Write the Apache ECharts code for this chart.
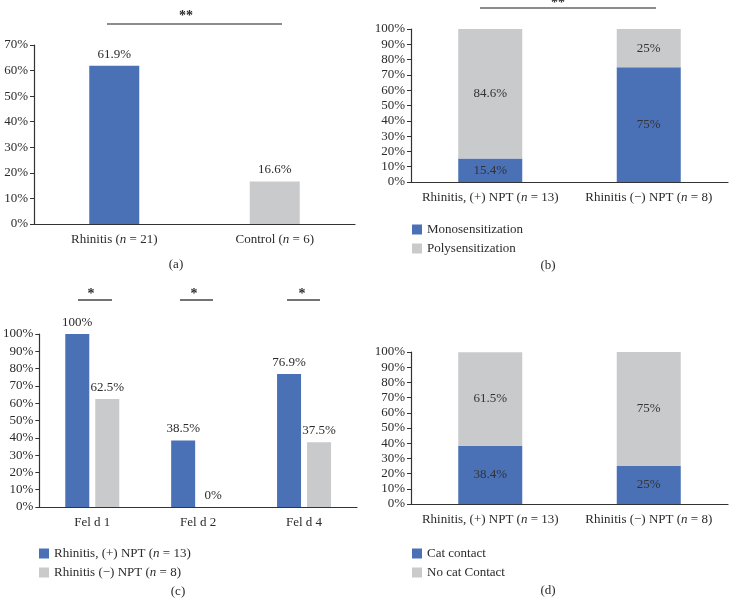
<!DOCTYPE html>
<html>
<head>
<meta charset="utf-8">
<script src="https://cdn.jsdelivr.net/npm/echarts@6/dist/echarts.min.js"></script>
<style>html,body{margin:0;padding:0;background:#fff}#c{width:730px;height:609px}</style>
</head>
<body>
<div id="c"></div>
<script>
// ---- data ----
const catsA = ['Rhinitis (n = 21)', 'Control (n = 6)'];
const valsA = [61.9, 16.6];
const catsB = ['Rhinitis, (+) NPT (n = 13)', 'Rhinitis (\u2212) NPT (n = 8)'];
const monoB = [15.4, 75];
const polyB = [84.6, 25];
const catsC = ['Fel d 1', 'Fel d 2', 'Fel d 4'];
const posC = [100, 38.5, 76.9];
const negC = [62.5, 0, 37.5];
const catsD = ['Rhinitis, (+) NPT (n = 13)', 'Rhinitis (\u2212) NPT (n = 8)'];
const catD = [38.4, 25];
const noCatD = [61.5, 75];
const seriesNamesB = ['Monosensitization', 'Polysensitization'];
const seriesNamesC = ['Rhinitis, (+) NPT (n = 13)', 'Rhinitis (\u2212) NPT (n = 8)'];
const seriesNamesD = ['Cat contact', 'No cat Contact'];

const BLUE = '#4a70b6', GRAY = '#c9cacc', TXT = '#2b2b2b';
const FONT = '"Liberation Serif", "DejaVu Serif", serif';

function italN(s) { return s.replace(/\(n =/, '({i|n} ='); }
const rich = { i: { fontStyle: 'italic', fontFamily: FONT, fontSize: 13, color: TXT } };

function xAxis(grid, data) {
  return {
    type: 'category', gridIndex: grid, data: data,
    axisLine: { lineStyle: { color: '#333', width: 1.2 } },
    axisTick: { alignWithLabel: true, length: 4, lineStyle: { color: '#333' } },
    axisLabel: { interval: 0, hideOverlap: false, fontFamily: FONT, fontSize: 13, color: TXT, margin: 9,
      formatter: v => italN(v), rich: rich }
  };
}
function yAxis(grid, max) {
  return {
    type: 'value', gridIndex: grid, min: 0, max: max, interval: 10,
    splitLine: { show: false },
    axisLine: { show: true, lineStyle: { color: '#333', width: 1.2 } },
    axisTick: { show: true, length: 4, lineStyle: { color: '#333' } },
    axisLabel: { fontFamily: FONT, fontSize: 13, color: TXT, margin: 6, formatter: '{value}%' }
  };
}
const lblTop = { show: true, position: 'top', fontFamily: FONT, fontSize: 13, color: TXT, formatter: p => p.value + '%', distance: 5 };
const lblIn = { show: true, position: 'inside', fontFamily: FONT, fontSize: 13, color: '#333', formatter: p => p.value + '%' };

function legend(names, left, top) {
  return {
    data: names, orient: 'vertical', left: left, top: top,
    itemWidth: 10, itemHeight: 10, itemGap: 6, icon: 'rect',
    textStyle: { fontFamily: FONT, fontSize: 13, color: TXT, rich: rich },
    formatter: n => italN(n), selectedMode: false
  };
}

const chart = echarts.init(document.getElementById('c'));
const option = {
  animation: false,
  grid: [
    { left: 34, right: 375, top: 45, bottom: 385 },
    { left: 411, right: 2, top: 29, bottom: 427 },
    { left: 38, right: 373, top: 334, bottom: 102 },
    { left: 411, right: 2, top: 352, bottom: 105 }
  ],
  xAxis: [xAxis(0, catsA), xAxis(1, catsB), xAxis(2, catsC), xAxis(3, catsD)],
  yAxis: [yAxis(0, 70), yAxis(1, 100), yAxis(2, 100), yAxis(3, 100)],
  legend: [
    legend(seriesNamesB, 407, 218),
    legend(seriesNamesC, 34, 542),
    legend(seriesNamesD, 407, 542)
  ],
  series: [
    { type: 'bar', xAxisIndex: 0, yAxisIndex: 0, barWidth: 50,
      data: valsA.map((v, i) => ({ value: v, itemStyle: { color: i === 0 ? BLUE : GRAY } })),
      label: lblTop },
    { name: seriesNamesB[0], type: 'bar', xAxisIndex: 1, yAxisIndex: 1, stack: 'b', barWidth: 64,
      itemStyle: { color: BLUE }, data: monoB, label: lblIn },
    { name: seriesNamesB[1], type: 'bar', xAxisIndex: 1, yAxisIndex: 1, stack: 'b', barWidth: 64,
      itemStyle: { color: GRAY }, data: polyB, label: lblIn },
    { name: seriesNamesC[0], type: 'bar', xAxisIndex: 2, yAxisIndex: 2, barWidth: 24, barGap: '25%',
      itemStyle: { color: BLUE }, data: posC, label: lblTop },
    { name: seriesNamesC[1], type: 'bar', xAxisIndex: 2, yAxisIndex: 2, barWidth: 24, barGap: '25%',
      itemStyle: { color: GRAY }, data: negC, label: lblTop },
    { name: seriesNamesD[0], type: 'bar', xAxisIndex: 3, yAxisIndex: 3, stack: 'd', barWidth: 64,
      itemStyle: { color: BLUE }, data: catD, label: lblIn },
    { name: seriesNamesD[1], type: 'bar', xAxisIndex: 3, yAxisIndex: 3, stack: 'd', barWidth: 64,
      itemStyle: { color: GRAY }, data: noCatD, label: lblIn }
  ],
  graphic: [
    // significance brackets
    { type: 'line', shape: { x1: 107, y1: 24, x2: 282, y2: 24 }, style: { stroke: '#666', lineWidth: 1.5 } },
    { type: 'text', x: 186, y: 16, style: { text: '**', font: 'bold 14px ' + FONT, fill: TXT, align: 'center', verticalAlign: 'middle' } },
    { type: 'line', shape: { x1: 480, y1: 8, x2: 656, y2: 8 }, style: { stroke: '#666', lineWidth: 1.5 } },
    { type: 'text', x: 558, y: 3, style: { text: '**', font: 'bold 14px ' + FONT, fill: TXT, align: 'center', verticalAlign: 'middle' } },
    { type: 'line', shape: { x1: 78, y1: 300, x2: 112, y2: 300 }, style: { stroke: '#444', lineWidth: 1.5 } },
    { type: 'text', x: 91, y: 294, style: { text: '*', font: 'bold 14px ' + FONT, fill: TXT, align: 'center', verticalAlign: 'middle' } },
    { type: 'line', shape: { x1: 180, y1: 300, x2: 213, y2: 300 }, style: { stroke: '#444', lineWidth: 1.5 } },
    { type: 'text', x: 194, y: 294, style: { text: '*', font: 'bold 14px ' + FONT, fill: TXT, align: 'center', verticalAlign: 'middle' } },
    { type: 'line', shape: { x1: 287, y1: 300, x2: 320, y2: 300 }, style: { stroke: '#444', lineWidth: 1.5 } },
    { type: 'text', x: 302, y: 294, style: { text: '*', font: 'bold 14px ' + FONT, fill: TXT, align: 'center', verticalAlign: 'middle' } },
    // panel captions
    { type: 'text', x: 176, y: 265, style: { text: '(a)', font: '13px ' + FONT, fill: TXT, align: 'center', verticalAlign: 'middle' } },
    { type: 'text', x: 548, y: 266, style: { text: '(b)', font: '13px ' + FONT, fill: TXT, align: 'center', verticalAlign: 'middle' } },
    { type: 'text', x: 178, y: 592, style: { text: '(c)', font: '13px ' + FONT, fill: TXT, align: 'center', verticalAlign: 'middle' } },
    { type: 'text', x: 548, y: 591, style: { text: '(d)', font: '13px ' + FONT, fill: TXT, align: 'center', verticalAlign: 'middle' } }
  ]
};
chart.setOption(option);
</script>
</body>
</html>
